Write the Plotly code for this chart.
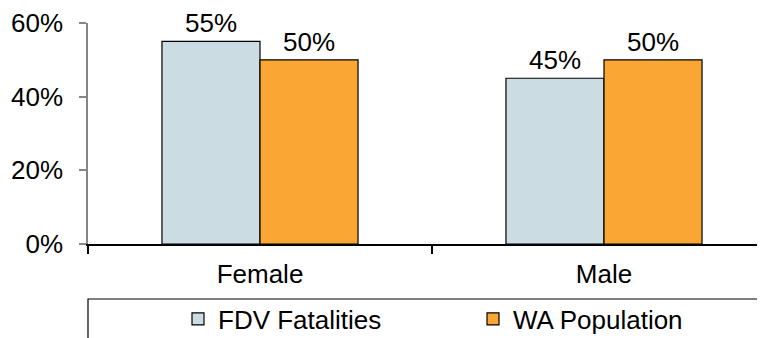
import plotly.graph_objects as go

categories = ["Female", "Male"]
fdv_fatalities = [0.55, 0.45]
wa_population = [0.50, 0.50]
series_names = ["FDV Fatalities", "WA Population"]
y_ticks = [0, 0.2, 0.4, 0.6]
y_tick_labels = ["0%", "20%", "40%", "60%"]

FONT = "Liberation Sans, Arial, sans-serif"
FS = 26

# page body has an 8px margin, so the figure is sized / offset for it
W, H = 757, 330
ML, MT = 80, 15
PLOT_W = W - ML          # 677
PLOT_BOTTOM = 236        # y of the 0% line inside the figure
PLOT_H = PLOT_BOTTOM - MT

fig = go.Figure()
fig.add_trace(go.Bar(
    x=categories, y=fdv_fatalities, name=series_names[0],
    marker=dict(color="#CCDCE3", line=dict(color="#000000", width=1.2)),
    texttemplate="%{y:.0%}", textposition="outside",
    textfont=dict(family=FONT, size=FS, color="#000000"),
    cliponaxis=False,
))
fig.add_trace(go.Bar(
    x=categories, y=wa_population, name=series_names[1],
    marker=dict(color="#F9A634", line=dict(color="#000000", width=1.2)),
    texttemplate="%{y:.0%}", textposition="outside",
    textfont=dict(family=FONT, size=FS, color="#000000"),
    cliponaxis=False,
))

# legend frame (extends beyond the right and bottom edges of the canvas)
fig.add_shape(type="rect", xref="paper", yref="paper",
              x0=0, x1=1.2, y0=-55 / PLOT_H, y1=-0.9,
              line=dict(color="#000000", width=1.2), fillcolor="rgba(0,0,0,0)")

fig.update_layout(
    width=W, height=H,
    margin=dict(l=ML, r=0, t=MT, b=H - PLOT_BOTTOM, autoexpand=False),
    paper_bgcolor="white", plot_bgcolor="white",
    font=dict(family=FONT, size=FS, color="#000000"),
    barmode="group", bargap=0.43, bargroupgap=0,
    showlegend=True,
    legend=dict(orientation="h", x=(178 - 88) / PLOT_W, xanchor="left",
                y=-75 / PLOT_H, yanchor="middle",
                font=dict(family=FONT, size=FS, color="#000000"),
                entrywidth=250, traceorder="normal",
                bgcolor="rgba(0,0,0,0)", borderwidth=0),
    xaxis=dict(type="category", range=[-0.5, -0.5 + PLOT_W / 344],
               showline=True, linecolor="#000000", linewidth=1.5,
               ticks="outside", ticklen=8, tickwidth=1.5, tickcolor="#000000",
               tickson="boundaries", showgrid=False, zeroline=False,
               ticklabelstandoff=6,
               tickfont=dict(family=FONT, size=FS, color="#000000")),
    yaxis=dict(range=[0, 0.6], tickvals=y_ticks, ticktext=y_tick_labels,
               showline=True, linecolor="#868686", linewidth=1.5,
               ticks="outside", ticklen=7, tickwidth=1.5, tickcolor="#868686",
               ticklabelstandoff=11,
               showgrid=False, zeroline=False,
               tickfont=dict(family=FONT, size=FS, color="#000000")),
)

fig.write_html("out.html")
